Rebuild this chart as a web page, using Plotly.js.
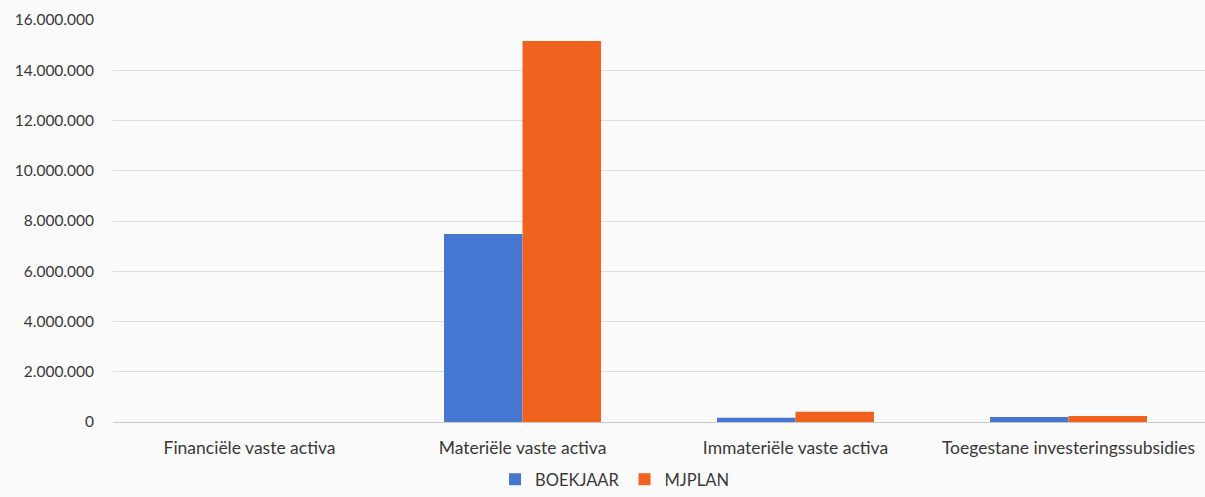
<!DOCTYPE html>
<html><head><meta charset="utf-8">
<script src="https://cdn.plot.ly/plotly-3.0.1.min.js"></script>
<style>html,body{margin:0;padding:0;background:#fbfafa;}#chart{width:1205px;height:497px;}</style>
</head><body><div id="chart"></div>
<script>
const categories = ["Financiële vaste activa", "Materiële vaste activa", "Immateriële vaste activa", "Toegestane investeringssubsidies"];
const boekjaar = [0, 7480000, 170000, 200000];
const mjplan = [0, 15160000, 410000, 240000];
const yTicks = [0, 2000000, 4000000, 6000000, 8000000, 10000000, 12000000, 14000000, 16000000];

const traces = [
  {type: "bar", name: "BOEKJAAR", x: categories, y: boekjaar, marker: {color: "#4577d2"}},
  {type: "bar", name: "MJPLAN", x: categories, y: mjplan, marker: {color: "#f1621f"}}
];
const layout = {
  width: 1205, height: 497,
  margin: {l: 113, r: 0, t: 20, b: 75},
  paper_bgcolor: "#fbfafa", plot_bgcolor: "#fbfafa",
  separators: ",.",
  font: {family: "Lato, Open Sans, sans-serif", size: 17, color: "#383838"},
  barmode: "group", bargap: 0.425, bargroupgap: 0,
  xaxis: {showgrid: false, showline: false, ticks: "", ticklabelstandoff: 13, tickangle: 0, tickfont: {size: 17.5, color: "#383838"}},
  yaxis: {range: [0, 16000000], tickvals: yTicks, tickformat: ",d", gridcolor: "#dcdcdc", gridwidth: 1,
          zeroline: true, zerolinecolor: "#c8c8c8", zerolinewidth: 1, ticks: "", ticklabelstandoff: 18,
          tickfont: {size: 15.5, color: "#383838"}},
  showlegend: true,
  legend: {orientation: "h", xref: "container", yref: "container", x: 0.51, xanchor: "center", y: 0, yanchor: "bottom",
           font: {size: 16.5, color: "#383838"}, bgcolor: "rgba(0,0,0,0)", itemwidth: 30, traceorder: "normal"}
};
Plotly.newPlot("chart", traces, layout, {displayModeBar: false, staticPlot: true});
</script></body></html>
